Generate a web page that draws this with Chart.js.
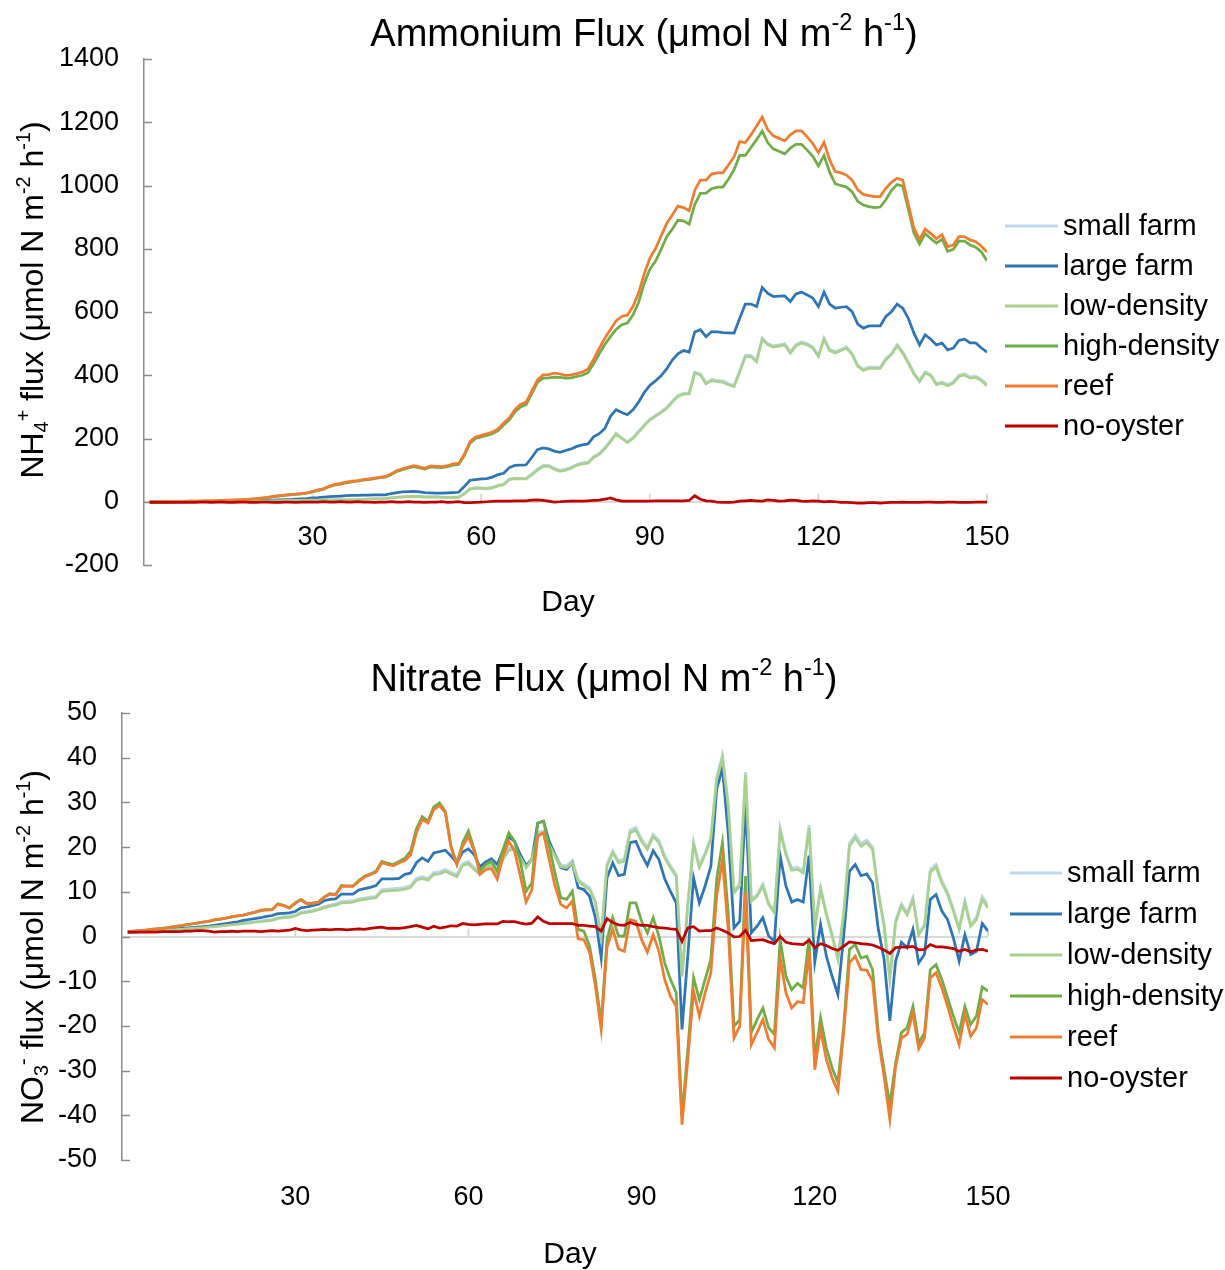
<!DOCTYPE html>
<html>
<head>
<meta charset="utf-8">
<title>Ammonium and nitrate flux</title>
<script src="https://cdn.jsdelivr.net/npm/chart.js@4.4.1/dist/chart.umd.min.js"></script>
<style>
  body { margin: 0; background: #fff; }
  .panel { width: 1225px; height: 635px; }
  canvas { display: block; }
</style>
</head>
<body>
<div class="panel"><canvas id="ammonium" width="1225" height="635"></canvas></div>
<div class="panel"><canvas id="nitrate" width="1225" height="635"></canvas></div>
<script>
// simulation days 1..150
const days = Array.from({ length: 150 }, (_, i) => i + 1);
const dayTicks = [30, 60, 90, 120, 150];

const seriesNames = ["small farm", "large farm", "low-density", "high-density", "reef", "no-oyster"];
const seriesColors = ["#bdd7ee", "#2e75b6", "#a9d18e", "#70ad47", "#ed7d31", "#c00000"];

// NH4+ flux, umol N m-2 h-1
const ammoniumSmallFarm = [
  0, 0, 0, 0, 0, 0, 1, 1, 1, 1,
  1, 1, 1, 2, 2, 2, 2, 2, 3, 3,
  3, 3, 4, 4, 4, 4, 5, 5, 5, 6,
  6, 6, 6, 7, 7, 7, 7, 7, 8, 9,
  10, 10, 11, 13, 15, 16, 17, 18, 17, 16,
  16, 16, 15, 15, 15, 16, 27, 42, 45, 44,
  43, 46, 52, 56, 72, 75, 74, 74, 88, 103,
  115, 115, 106, 99, 103, 109, 118, 123, 125, 143,
  153, 171, 193, 217, 203, 190, 203, 223, 243, 261,
  273, 285, 298, 318, 336, 343, 344, 410, 404, 376,
  387, 384, 382, 374, 368, 414, 463, 463, 447, 518,
  500, 493, 496, 500, 474, 497, 506, 500, 490, 463,
  518, 482, 474, 482, 490, 469, 432, 419, 426, 426,
  426, 453, 469, 497, 474, 442, 408, 384, 411, 402,
  374, 379, 371, 379, 400, 405, 395, 397, 387, 371
];
const ammoniumLargeFarm = [
  0, 0, 0, 0, 0, 0, 1, 1, 1, 1,
  1, 1, 2, 2, 2, 3, 3, 3, 4, 4,
  4, 5, 5, 6, 7, 7, 8, 9, 10, 12,
  13, 15, 16, 17, 18, 19, 20, 20, 21, 21,
  22, 22, 22, 26, 29, 31, 32, 33, 31, 29,
  28, 27, 27, 28, 29, 30, 48, 68, 70, 72,
  73, 78, 86, 90, 108, 115, 116, 117, 140, 165,
  170, 167, 160, 156, 162, 167, 175, 180, 183, 205,
  215, 232, 270, 291, 282, 275, 291, 315, 345, 368,
  382, 398, 420, 448, 468, 478, 473, 537, 544, 522,
  538, 537, 535, 534, 533, 580, 625, 625, 617, 678,
  659, 649, 650, 651, 633, 657, 663, 654, 644, 617,
  663, 625, 612, 615, 617, 601, 562, 549, 556, 556,
  556, 586, 601, 625, 612, 580, 533, 496, 528, 514,
  496, 502, 480, 486, 510, 514, 502, 502, 486, 473
];
const ammoniumLowDensity = [
  0, 0, 0, 0, 0, 0, 0, 0, 1, 1,
  1, 1, 1, 1, 2, 2, 2, 2, 2, 3,
  3, 3, 3, 3, 4, 4, 4, 4, 4, 5,
  5, 5, 5, 6, 6, 6, 6, 6, 7, 8,
  9, 9, 10, 12, 14, 15, 16, 17, 16, 15,
  15, 15, 14, 14, 14, 14, 25, 40, 43, 42,
  41, 44, 50, 54, 70, 73, 72, 72, 85, 100,
  112, 112, 103, 96, 100, 106, 115, 120, 122, 140,
  150, 168, 190, 214, 200, 187, 200, 220, 240, 258,
  270, 282, 295, 315, 333, 340, 341, 407, 401, 373,
  383, 380, 378, 370, 364, 410, 459, 459, 443, 514,
  496, 489, 492, 496, 470, 493, 502, 496, 486, 459,
  514, 478, 470, 478, 486, 465, 428, 415, 422, 422,
  422, 449, 465, 493, 470, 438, 404, 380, 407, 398,
  370, 375, 367, 375, 396, 401, 391, 393, 383, 367
];
const ammoniumHighDensity = [
  0, 0, 0, 0, 1, 1, 1, 2, 2, 2,
  3, 3, 3, 4, 4, 5, 6, 7, 8, 9,
  11, 13, 16, 18, 20, 22, 23, 25, 27, 31,
  36, 40, 48, 53, 56, 60, 63, 65, 68, 70,
  73, 76, 78, 86, 96, 101, 107, 111, 107, 103,
  110, 109, 108, 111, 116, 118, 146, 185, 200, 205,
  210, 215, 225, 243, 259, 284, 300, 307, 342, 377,
  391, 392, 394, 393, 391, 392, 396, 400, 408, 436,
  468, 497, 522, 545, 560, 565, 590, 630, 690, 735,
  760, 797, 838, 862, 890, 888, 878, 940, 975, 976,
  990, 995, 995, 1020, 1050, 1095, 1095, 1120, 1145, 1172,
  1135, 1115, 1108, 1100, 1118, 1130, 1130, 1112, 1092, 1062,
  1095, 1042, 1005, 1000, 995, 980, 950, 938, 933, 930,
  932, 955, 985, 1003, 998, 925, 850, 815, 848, 832,
  818, 830, 792, 798, 824, 824, 812, 805, 790, 762
];
const ammoniumReef = [
  0, 0, 0, 0, 1, 1, 1, 2, 2, 2,
  3, 3, 3, 4, 5, 5, 6, 7, 8, 10,
  12, 14, 17, 19, 21, 23, 24, 26, 28, 33,
  38, 42, 50, 55, 58, 62, 65, 67, 70, 72,
  75, 78, 80, 88, 99, 104, 110, 114, 110, 106,
  113, 112, 111, 114, 120, 121, 150, 190, 205, 210,
  215, 220, 230, 249, 265, 291, 308, 315, 350, 385,
  401, 402, 407, 404, 400, 401, 405, 410, 420, 450,
  485, 517, 545, 572, 586, 590, 617, 660, 720, 770,
  800, 840, 880, 907, 935, 930, 920, 985, 1017, 1017,
  1036, 1040, 1040, 1065, 1091, 1139, 1136, 1160, 1188, 1216,
  1176, 1157, 1149, 1141, 1160, 1173, 1173, 1154, 1133, 1104,
  1136, 1081, 1044, 1040, 1033, 1017, 986, 972, 968, 965,
  965, 991, 1010, 1023, 1017, 940, 865, 830, 862, 848,
  832, 845, 806, 812, 838, 838, 828, 822, 808, 790
];
const ammoniumNoOyster = [
  -2, -2, -2, -2, -2, -2, -2, -2, -2, -1,
  -1, -2, -1, -1, -2, -2, -1, -1, -2, -2,
  -1, -1, -2, -2, -1, -1, -2, -1, -1, -1,
  -1, 0, -1, -1, 0, -1, -1, 0, -1, -1,
  -2, -1, -1, 0, -1, -1, 0, -1, -1, -2,
  -1, -1, 0, -2, -1, 0, -3, -3, -2, -1,
  0, 1, 2, 2, 2, 3, 3, 3, 5, 6,
  4, 2, -1, 0, 1, 2, 2, 2, 3, 4,
  5, 8, 12, 6, 2, 2, 2, 2, 2, 2,
  3, 3, 3, 3, 3, 3, 4, 19, 8, 3,
  2, -1, -2, -2, -1, 2, 3, 4, 3, 2,
  6, 4, 2, 3, 5, 4, 2, 1, 3, 2,
  0, 1, 0, -2, -2, -3, -4, -4, -3, -3,
  -4, -3, -2, -2, -1, -2, -2, -2, -1, -1,
  -2, -2, -1, -1, -2, -2, -2, -1, -1, -1
];

// NO3- flux, umol N m-2 h-1
const nitrateSmallFarm = [
  1.0, 1.0, 1.1, 1.2, 1.2, 1.3, 1.4, 1.5, 1.6, 1.7,
  1.8, 1.9, 2.0, 2.1, 2.2, 2.3, 2.5, 2.6, 2.7, 2.9,
  3.0, 3.2, 3.3, 3.5, 3.7, 3.8, 4.2, 4.4, 4.5, 4.8,
  5.4, 5.6, 5.8, 6.2, 6.7, 7.0, 7.3, 7.8, 7.9, 8.0,
  8.4, 8.6, 8.8, 9.0, 10.5, 10.6, 10.7, 10.8, 11.0, 11.4,
  13.0, 13.4, 13.0, 14.3, 14.5, 15.0, 14.4, 13.8, 16.3, 16.8,
  15.4, 14.3, 15.4, 16.6, 14.3, 17.6, 19.8, 20.0, 18.0, 15.8,
  17.6, 23.3, 23.7, 21.0, 18.4, 16.0, 15.8, 17.0, 12.8, 11.8,
  10.9, 7.9, 0.1, 16.2, 19.2, 17.0, 17.3, 23.8, 24.4, 21.8,
  20.0, 22.9, 21.5, 18.1, 15.8, 13.9, -8.6, 7.2, 21.1, 15.9,
  18.8, 22.2, 35.7, 40.6, 29.8, 10.2, 11.8, 36.8, 8.3, 9.4,
  11.8, 7.6, 5.7, 24.2, 18.8, 15.3, 15.5, 14.7, 24.9, 2.3,
  11.0, 5.3, 0.5, -4.7, 5.3, 20.8, 22.7, 20.8, 21.6, 20.0,
  10.2, 2.7, -9.2, 3.5, 7.3, 5.3, 8.7, 0.8, 2.7, 15.0,
  16.2, 12.5, 9.9, 6.1, 2.0, 8.0, 2.7, 4.3, 9.0, 7.0
];
const nitrateLargeFarm = [
  1.0, 1.0, 1.1, 1.2, 1.2, 1.3, 1.4, 1.5, 1.6, 1.8,
  1.9, 2.0, 2.1, 2.2, 2.3, 2.5, 2.7, 2.9, 3.1, 3.3,
  3.6, 3.8, 4.0, 4.2, 4.5, 4.7, 5.1, 5.2, 5.3, 5.6,
  6.4, 6.6, 6.9, 7.2, 8.0, 8.3, 8.4, 9.5, 9.5, 9.5,
  10.4, 10.7, 11.0, 11.4, 12.9, 12.9, 12.9, 13.0, 13.9, 14.2,
  16.5, 17.6, 16.8, 18.7, 19.0, 19.3, 18.0, 16.5, 18.9, 19.6,
  18.3, 15.6, 16.7, 17.4, 16.1, 19.3, 22.3, 21.3, 18.3, 15.9,
  17.2, 25.4, 25.8, 21.3, 18.3, 15.4, 15.0, 16.5, 10.9, 10.5,
  9.0, 4.2, -4.8, 13.1, 16.5, 13.6, 13.9, 21.0, 21.3, 18.3,
  15.9, 19.2, 17.2, 12.9, 10.1, 7.5, -20.8, -4.4, 13.1, 7.5,
  11.3, 15.7, 32.9, 37.7, 23.2, 1.9, 3.4, 30.0, 0.8, 2.3,
  4.2, 0.1, -1.1, 18.0, 11.3, 7.7, 8.3, 7.7, 18.1, -5.7,
  2.7, -4.4, -8.9, -13.0, 0.1, 14.6, 16.1, 13.6, 14.0, 12.0,
  1.6, -5.1, -18.9, -5.5, -1.3, -2.5, 1.6, -5.9, -4.0, 8.3,
  9.4, 5.7, 3.8, -0.3, -5.5, 0.4, -4.0, -3.3, 2.9, 1.2
];
const nitrateLowDensity = [
  1.0, 1.0, 1.1, 1.1, 1.2, 1.2, 1.3, 1.4, 1.5, 1.6,
  1.7, 1.8, 1.9, 2.0, 2.1, 2.2, 2.3, 2.5, 2.6, 2.7,
  2.9, 3.0, 3.2, 3.3, 3.5, 3.6, 4.0, 4.2, 4.3, 4.6,
  5.2, 5.4, 5.6, 6.0, 6.4, 6.8, 7.0, 7.5, 7.6, 7.7,
  8.1, 8.3, 8.5, 8.7, 10.1, 10.2, 10.3, 10.4, 10.6, 11.0,
  12.6, 13.0, 12.6, 13.9, 14.0, 14.6, 14.0, 13.4, 15.9, 16.3,
  15.0, 13.9, 15.0, 16.2, 13.9, 17.2, 19.3, 19.5, 17.6, 15.4,
  17.2, 22.8, 23.2, 20.5, 18.0, 15.6, 15.4, 16.5, 12.4, 11.4,
  10.5, 7.5, -0.3, 15.7, 18.7, 16.5, 16.8, 23.2, 23.8, 21.3,
  19.5, 22.4, 21.0, 17.6, 15.4, 13.5, -9.0, 6.8, 20.6, 15.4,
  18.3, 21.7, 35.1, 40.0, 29.2, 9.8, 11.3, 36.2, 7.9, 9.0,
  11.3, 7.2, 5.3, 23.6, 18.3, 14.8, 15.0, 14.2, 24.3, 1.9,
  10.5, 4.9, 0.1, -5.1, 4.9, 20.2, 22.1, 20.2, 21.0, 19.5,
  9.8, 2.3, -9.6, 3.1, 6.9, 4.9, 8.3, 0.4, 2.3, 14.4,
  15.6, 12.0, 9.4, 5.7, 1.6, 7.5, 2.3, 3.8, 8.3, 6.4
];
const nitrateHighDensity = [
  1.1, 1.2, 1.3, 1.4, 1.6, 1.7, 1.8, 2.0, 2.2, 2.4,
  2.6, 2.8, 3.0, 3.2, 3.4, 3.7, 3.9, 4.1, 4.4, 4.6,
  4.8, 5.1, 5.4, 5.9, 6.0, 6.0, 7.3, 7.0, 6.4, 7.5,
  8.3, 7.4, 7.5, 7.7, 8.8, 9.6, 9.4, 11.4, 11.3, 11.3,
  12.5, 13.5, 14.0, 14.6, 16.8, 16.4, 16.1, 16.8, 17.5, 19.1,
  24.1, 26.8, 25.8, 29.0, 29.9, 28.0, 20.2, 16.3, 21.0, 23.6,
  19.5, 14.6, 16.1, 16.8, 14.6, 19.5, 23.2, 21.3, 16.8, 10.1,
  12.0, 25.4, 25.8, 20.2, 14.2, 8.7, 8.3, 10.1, 1.6, 1.2,
  -2.2, -9.6, -19.3, -0.7, 4.2, 0.1, 0.1, 7.5, 7.5, 3.4,
  0.8, 4.2, 0.1, -5.9, -9.6, -12.6, -40.2, -25.3, -9.2, -14.1,
  -9.6, -5.1, 12.8, 21.0, 5.3, -20.1, -18.6, 13.5, -21.5, -18.6,
  -16.0, -20.4, -21.9, -0.7, -8.9, -11.9, -10.5, -11.5, -0.3, -27.5,
  -18.2, -24.9, -29.4, -32.7, -20.1, -2.9, -1.8, -4.8, -4.4, -7.4,
  -21.5, -29.8, -37.6, -28.3, -21.5, -20.4, -15.6, -23.8, -21.5, -7.4,
  -6.3, -9.6, -13.7, -17.8, -21.5, -15.6, -19.7, -17.8, -11.3, -12.2
];
const nitrateReef = [
  1.1, 1.2, 1.3, 1.4, 1.6, 1.7, 1.8, 2.0, 2.2, 2.4,
  2.6, 2.8, 3.0, 3.2, 3.4, 3.7, 3.9, 4.1, 4.4, 4.6,
  4.8, 5.1, 5.4, 5.8, 5.9, 6.0, 7.2, 6.9, 6.4, 7.4,
  8.2, 7.3, 7.4, 7.6, 8.7, 9.5, 9.3, 11.2, 11.2, 11.2,
  12.3, 13.3, 13.8, 14.4, 16.5, 16.1, 15.8, 16.5, 17.0, 18.3,
  23.2, 26.2, 25.4, 28.4, 29.3, 27.7, 19.8, 16.1, 20.2, 22.4,
  19.1, 13.9, 15.0, 15.2, 12.8, 18.0, 21.3, 19.1, 13.5, 7.7,
  10.5, 22.4, 23.2, 17.2, 11.3, 7.2, 6.4, 7.9, -0.5, -0.7,
  -3.6, -11.1, -20.8, -2.5, 1.6, -2.8, -3.3, 3.8, 3.4, -0.7,
  -3.5, 0.4, -3.3, -9.6, -13.4, -15.6, -42.1, -27.5, -12.2, -17.8,
  -12.6, -8.1, 9.0, 17.2, 1.6, -22.7, -20.1, 9.8, -24.2, -21.5,
  -18.6, -23.0, -24.9, -4.8, -12.6, -16.0, -14.6, -14.8, -3.3, -29.8,
  -20.8, -27.5, -31.6, -34.6, -21.5, -5.9, -4.4, -7.4, -7.5, -10.0,
  -23.0, -31.3, -40.9, -29.0, -22.7, -21.9, -17.1, -25.1, -22.7, -9.2,
  -8.1, -11.5, -15.6, -20.1, -24.2, -17.4, -22.3, -20.4, -14.1, -15.2
];
const nitrateNoOyster = [
  1.0, 1.0, 1.0, 1.0, 1.0, 1.0, 1.1, 1.1, 1.1, 1.1,
  1.2, 1.2, 1.3, 1.3, 1.2, 1.0, 1.1, 1.1, 1.2, 1.1,
  1.2, 1.2, 1.2, 1.1, 1.2, 1.3, 1.2, 1.3, 1.4, 1.8,
  1.5, 1.3, 1.4, 1.5, 1.6, 1.5, 1.6, 1.6, 1.5, 1.6,
  1.7, 1.6, 1.8, 2.0, 2.1, 1.8, 1.9, 1.8, 2.0, 2.2,
  2.5, 2.1, 1.7, 2.3, 1.9, 2.1, 2.4, 2.3, 2.9, 2.7,
  2.6, 2.7, 2.8, 2.8, 2.8, 3.4, 3.3, 3.3, 3.0, 2.8,
  3.0, 4.4, 3.4, 2.9, 2.9, 2.9, 2.9, 2.9, 2.5, 2.5,
  2.3, 2.2, 1.2, 4.0, 3.1, 2.6, 2.5, 3.2, 2.7, 2.5,
  2.5, 2.2, 2.0, 1.9, 1.7, 1.6, -1.1, 1.9, 2.2, 1.2,
  1.3, 1.3, 1.9, 1.4, 0.8, -0.1, 0.0, 1.4, -0.9, -0.8,
  -0.7, -1.2, -1.6, 0.0, -1.3, -1.6, -1.7, -1.8, -0.8, -2.5,
  -1.6, -2.0, -2.7, -3.1, -2.2, -1.2, -1.4, -1.6, -1.7, -1.9,
  -2.4, -3.0, -3.8, -2.5, -2.4, -2.4, -2.2, -3.0, -2.9, -1.8,
  -2.3, -2.3, -2.5, -2.7, -3.3, -2.9, -3.4, -3.0, -2.9, -3.3
];

const FONT = '"Liberation Sans", Arial, sans-serif';
Chart.defaults.font.family = FONT;
Chart.defaults.color = "#000";

const fluxUnits = [
  { text: " flux (\u03bcmol N m" }, { text: "-2", shift: "sup" },
  { text: " h" }, { text: "-1", shift: "sup" }, { text: ")" }
];

// text made of pieces, some raised or lowered, centred on (x, y)
function drawRichText(ctx, pieces, x, y, size, vertical) {
  const small = size * 0.62;
  ctx.save();
  ctx.translate(x, y);
  if (vertical) ctx.rotate(-Math.PI / 2);
  ctx.fillStyle = "#000";
  ctx.textAlign = "left";
  ctx.textBaseline = "alphabetic";
  const widths = pieces.map((p) => {
    ctx.font = (p.shift ? small : size) + "px " + FONT;
    return ctx.measureText(p.text).width;
  });
  let cx = -widths.reduce((a, b) => a + b, 0) / 2;
  const base = size * 0.36;
  pieces.forEach((p, i) => {
    ctx.font = (p.shift ? small : size) + "px " + FONT;
    let dy = base;
    if (p.shift === "sup") dy -= size * 0.4;
    if (p.shift === "sub") dy += size * 0.16;
    ctx.fillText(p.text, cx, dy);
    cx += widths[i];
  });
  ctx.restore();
}

// titles, legend and the small tick marks Excel-style
function decorations(layout) {
  return {
    id: "decorations",
    beforeDatasetsDraw(chart) {
      const { ctx, scales: { x, y } } = chart;
      ctx.save();
      ctx.strokeStyle = "#8c8c8c";
      ctx.lineWidth = 1.5;
      y.ticks.forEach((t) => {
        const py = Math.round(y.getPixelForValue(t.value)) + 0.5;
        ctx.beginPath();
        ctx.moveTo(x.left, py);
        ctx.lineTo(x.left + 8, py);
        ctx.stroke();
      });
      const zero = y.getPixelForValue(0);
      ctx.strokeStyle = "#d9d9d9";
      ctx.lineWidth = 2;
      x.ticks.forEach((t) => {
        if (t.value === 0) return;
        const px = x.getPixelForValue(t.value);
        ctx.beginPath();
        ctx.moveTo(px, zero);
        ctx.lineTo(px, zero - 8);
        ctx.stroke();
      });
      ctx.restore();
    },
    afterDraw(chart) {
      const ctx = chart.ctx;
      drawRichText(ctx, layout.title, layout.titleX, layout.titleY, 38, false);
      drawRichText(ctx, layout.yTitle, layout.yTitleX, layout.yTitleY, 32, true);
      drawRichText(ctx, [{ text: "Day" }], layout.dayX, layout.dayY, 30, false);

      const lg = layout.legend;
      ctx.save();
      ctx.font = "29px " + FONT;
      ctx.textBaseline = "middle";
      ctx.fillStyle = "#000";
      chart.data.datasets.forEach((ds, i) => {
        const ly = lg.top + i * lg.step;
        ctx.strokeStyle = ds.borderColor;
        ctx.lineWidth = 3;
        ctx.beginPath();
        ctx.moveTo(lg.lineStart, ly);
        ctx.lineTo(lg.lineEnd, ly);
        ctx.stroke();
        ctx.fillText(ds.label, lg.textX, ly + 1);
      });
      ctx.restore();
    }
  };
}

function buildDatasets(values) {
  return values.map((v, i) => ({
    label: seriesNames[i],
    data: v,
    borderColor: seriesColors[i],
    backgroundColor: seriesColors[i],
    borderWidth: 2.75,
    pointRadius: 0,
    tension: 0,
    order: values.length - 1 - i
  }));
}

const tickFont = { size: 27 };
const plainNumber = (v) => String(v);
const dayTickBuilder = (scale) => {
  scale.ticks = dayTicks.map((v) => ({ value: v }));
};

// ammonium panel: day labels sit just under the zero line
new Chart(document.getElementById("ammonium"), {
  type: "line",
  data: {
    labels: days,
    datasets: buildDatasets([
      ammoniumSmallFarm, ammoniumLargeFarm, ammoniumLowDensity,
      ammoniumHighDensity, ammoniumReef, ammoniumNoOyster
    ])
  },
  options: {
    responsive: false,
    animation: false,
    layout: { padding: { left: 0, right: 238, top: 59, bottom: 70 } },
    plugins: { legend: { display: false }, tooltip: { enabled: false } },
    scales: {
      x: {
        type: "linear",
        min: 0,
        max: 150,
        position: { y: 0 },
        afterBuildTicks: dayTickBuilder,
        grid: { display: false, drawTicks: false },
        border: { color: "#d9d9d9", width: 2 },
        ticks: { padding: 20, font: tickFont, maxRotation: 0, callback: plainNumber }
      },
      y: {
        min: -200,
        max: 1400,
        ticks: { stepSize: 200, padding: 25, font: tickFont, callback: plainNumber },
        grid: { display: false, drawTicks: false },
        border: { color: "#8c8c8c", width: 1.5 },
        afterFit: (s) => { s.width = 144; }
      }
    }
  },
  plugins: [decorations({
    title: [{ text: "Ammonium Flux (\u03bcmol N m" }, { text: "-2", shift: "sup" },
            { text: " h" }, { text: "-1", shift: "sup" }, { text: ")" }],
    titleX: 644, titleY: 32,
    yTitle: [{ text: "NH" }, { text: "4", shift: "sub" }, { text: "+", shift: "sup" }].concat(fluxUnits),
    yTitleX: 31, yTitleY: 300,
    dayX: 568, dayY: 600,
    legend: { lineStart: 1005, lineEnd: 1058, textX: 1063, top: 226, step: 40 }
  })]
});

// nitrate panel: day labels along the bottom edge
new Chart(document.getElementById("nitrate"), {
  type: "line",
  data: {
    labels: days,
    datasets: buildDatasets([
      nitrateSmallFarm, nitrateLargeFarm, nitrateLowDensity,
      nitrateHighDensity, nitrateReef, nitrateNoOyster
    ])
  },
  options: {
    responsive: false,
    animation: false,
    layout: { padding: { left: 0, right: 237, top: 78, bottom: 0 } },
    plugins: { legend: { display: false }, tooltip: { enabled: false } },
    scales: {
      x: {
        type: "linear",
        min: 0,
        max: 150,
        position: "bottom",
        afterBuildTicks: dayTickBuilder,
        grid: { display: false, drawTicks: false },
        border: { display: false },
        ticks: { padding: 21, font: tickFont, maxRotation: 0, callback: plainNumber },
        afterFit: (s) => { s.height = 110; }
      },
      y: {
        min: -50,
        max: 50,
        ticks: { stepSize: 10, padding: 25, font: tickFont, callback: plainNumber },
        grid: {
          drawTicks: false,
          lineWidth: 2,
          color: (c) => (c.tick && c.tick.value === 0 ? "#d9d9d9" : "rgba(0,0,0,0)")
        },
        border: { color: "#8c8c8c", width: 1.5 },
        afterFit: (s) => { s.width = 122; }
      }
    }
  },
  plugins: [decorations({
    title: [{ text: "Nitrate Flux (\u03bcmol N m" }, { text: "-2", shift: "sup" },
            { text: " h" }, { text: "-1", shift: "sup" }, { text: ")" }],
    titleX: 604, titleY: 42,
    yTitle: [{ text: "NO" }, { text: "3", shift: "sub" }, { text: "-", shift: "sup" }].concat(fluxUnits),
    yTitleX: 31, yTitleY: 312,
    dayX: 570, dayY: 617,
    legend: { lineStart: 1010, lineEnd: 1062, textX: 1067, top: 238, step: 41 }
  })]
});
</script>
</body>
</html>
